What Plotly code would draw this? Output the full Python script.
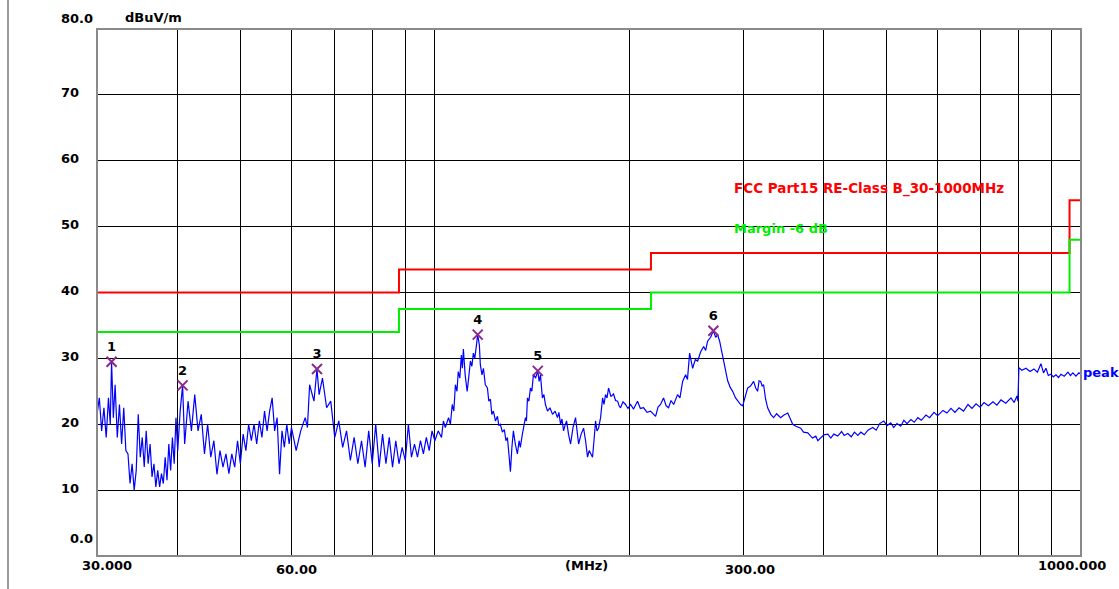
import plotly.graph_objects as go

# ---------------- data ----------------
f_a = [30.00, 30.25, 30.50, 30.75, 31.00, 31.25, 31.45, 31.60, 31.80, 32.00, 32.25, 32.50, 32.75,
       33.00, 33.25, 33.50, 33.75, 34.00, 34.25, 34.50, 34.75, 35.00, 35.25, 35.50, 35.75, 36.00,
       36.25, 36.50, 36.75, 37.00, 37.25, 37.50, 37.75, 38.00, 38.25, 38.50, 38.75, 39.00, 39.25,
       39.50, 39.75]
l_a = [21.5, 24.0, 19.0, 22.5, 18.0, 24.0, 20.0, 29.5, 21.0, 26.0, 18.0, 23.0, 17.0,
       22.5, 16.0, 15.5, 11.0, 14.0, 10.0, 13.0, 21.5, 15.0, 18.0, 13.5, 19.0, 14.0,
       17.0, 12.0, 14.0, 10.5, 13.0, 10.5, 12.5, 11.0, 15.0, 11.5, 17.0, 13.0, 18.0,
       14.0, 21.0]

f_b = [40.00, 40.35, 40.70, 41.00, 41.50, 42.00, 42.50, 43.00, 43.50, 44.00, 44.50, 45.00, 45.50,
       46.00, 46.50, 47.00, 47.50, 48.00, 48.50, 49.00, 49.50, 50.00, 50.50, 51.00, 51.50, 52.00,
       52.50, 53.00, 53.50, 54.00, 54.50, 55.00, 55.50, 56.00, 56.50, 57.00, 57.50, 58.00, 58.50,
       59.00, 59.50]
l_b = [16.0, 22.0, 25.9, 17.0, 23.5, 19.0, 24.5, 19.0, 21.5, 15.5, 20.0, 15.0, 17.5,
       12.4, 16.0, 13.5, 15.5, 12.5, 15.5, 13.5, 17.5, 14.0, 18.5, 16.0, 20.0, 17.5,
       20.0, 17.0, 20.5, 18.0, 22.0, 19.0, 22.0, 24.0, 19.0, 21.0, 12.4, 19.0, 16.5,
       20.0, 17.0]

f_c = [60.0, 61.0, 62.0, 63.0, 63.5, 64.0, 65.0, 65.7, 66.2, 67.0, 68.0, 69.0, 70.0, 71.0,
       72.0, 73.0, 74.0, 75.0, 76.0, 77.0, 78.0, 79.0, 80.0, 81.0, 82.0, 83.0, 84.0, 85.0,
       86.0, 87.0, 88.0, 89.0, 90.0, 91.0, 92.0, 93.0, 94.0, 95.0, 96.0, 97.0, 98.0, 99.0]
l_c = [19.5, 16.0, 19.0, 21.0, 19.5, 26.0, 23.5, 28.4, 24.5, 27.0, 22.5, 23.5, 18.0, 20.5,
       16.5, 19.0, 14.5, 18.0, 14.0, 17.5, 13.5, 19.0, 14.0, 20.0, 13.5, 18.5, 14.0, 18.0,
       13.5, 17.5, 14.0, 16.5, 14.5, 20.0, 15.0, 17.0, 15.0, 17.5, 15.5, 18.0, 16.0, 19.0]

f_d = [100.0, 101.2, 102.4, 103.1, 103.8, 105.0, 105.7, 106.4, 107.0, 107.6,
       108.2, 108.7, 109.3, 109.9, 110.3, 110.7, 111.4, 112.2, 112.8, 113.5,
       114.1, 114.7, 115.3, 116.0, 116.5, 117.2, 117.6, 118.3, 118.9, 119.7,
       120.6, 121.2, 121.9, 122.5, 123.2, 124.1, 125.0, 125.6, 126.3, 127.2,
       128.1, 128.8, 129.5, 130.2, 130.9, 131.6, 132.3, 133.2, 134.2, 135.0,
       135.6, 136.6, 137.3, 138.1, 138.6, 139.1, 139.8, 140.6, 141.3, 142.1,
       143.2, 144.3, 145.0, 145.7, 146.7, 147.5, 148.3, 149.4, 150.7, 152.1,
       153.5, 154.8, 155.6, 156.5, 157.3, 158.2, 159.0, 159.9, 161.0, 162.2,
       163.6, 165.1, 166.0, 166.9, 168.4, 169.9, 171.1, 172.3, 173.3, 174.2,
       175.4, 176.3, 177.3, 178.2, 179.2, 180.5, 181.8, 182.7, 183.7, 184.7,
       185.7, 187.3, 189.0, 190.4, 191.8, 192.8, 193.8, 195.5, 197.3, 199.0]
l_d = [17.5, 19.0, 18.0, 20.5, 19.5, 21.0, 20.0, 23.0, 22.0, 26.0,
       25.0, 28.0, 27.0, 30.5, 28.5, 31.4, 27.5, 25.0, 27.0, 29.6,
       28.8, 30.8, 30.0, 32.5, 33.6, 32.0, 29.0, 27.5, 28.5, 26.0,
       25.5, 23.5, 23.8, 21.5, 22.0, 20.5, 21.2, 19.8, 20.0, 18.8,
       19.2, 17.5, 18.0, 15.5, 12.8, 16.5, 19.0, 17.0, 15.5, 17.5,
       16.5, 18.5, 19.5, 21.0, 20.5, 24.0, 23.5, 25.5, 25.0, 27.6,
       27.0, 28.1, 26.5, 27.5, 24.0, 24.5, 23.0, 22.0, 22.5, 21.5,
       22.0, 21.0, 21.8, 20.0, 20.8, 19.0, 19.8, 20.5, 18.5, 17.0,
       19.5, 21.0, 19.0, 17.0, 18.5, 19.4, 17.5, 15.0, 16.0, 15.5,
       15.0, 17.5, 20.5, 19.0, 19.4, 21.0, 24.0, 23.0, 24.5, 24.0,
       25.5, 24.2, 24.6, 23.6, 23.5, 22.8, 22.5, 23.4, 23.0, 22.4]

f_e = [200.9, 203.0, 205.9, 208.0, 210.4, 213.0, 215.7, 219.6, 221.5, 223.5, 225.9, 228.0,
       230.0, 232.0, 234.2, 237.5, 239.5, 241.8, 244.4, 246.0, 247.9, 250.6, 253.0, 255.1,
       257.9, 260.6, 262.5, 264.3, 267.2, 269.8, 272.0, 273.9, 275.9, 279.9, 283.9, 286.5,
       289.0, 292.0, 294.2, 297.3, 299.5, 302.0, 304.8, 308.0, 311.4, 313.7, 315.9, 317.5,
       319.3, 321.0, 322.7, 325.0, 327.4, 331.0, 334.4, 338.0, 342.9, 347.0, 351.7, 355.0,
       357.9, 362.0]
l_e = [23.0, 22.3, 23.5, 22.4, 22.5, 21.8, 22.0, 21.2, 22.6, 23.0, 24.0, 22.8,
       22.5, 23.6, 23.0, 24.5, 24.0, 26.5, 27.5, 26.8, 30.8, 28.5, 29.8, 29.6,
       31.0, 31.8, 31.2, 32.6, 33.2, 34.2, 33.2, 33.6, 32.6, 29.6, 26.6, 25.6,
       25.0, 24.0, 23.5, 23.0, 22.8, 24.2, 25.5, 25.8, 26.5, 25.5, 25.0, 26.6,
       26.5, 25.8, 26.0, 23.8, 22.5, 21.5, 21.0, 21.6, 21.0, 21.4, 21.7, 20.8,
       20.0, 19.7]

f_f = [368.3, 372.0, 377.7, 384.0, 388.6, 391.5, 395.7, 400.0, 405.7, 410.0,
       414.4, 420.3, 426.0, 430.0, 435.6, 441.0, 446.0, 451.6, 456.3, 462.0,
       468.0, 476.2, 482.0, 488.0, 495.2, 501.0, 507.7, 513.0, 519.0, 526.1,
       532.0, 538.0, 545.3, 552.0, 559.1, 566.0, 575.5, 583.0, 592.2, 600.0,
       611.4, 620.0, 629.1, 638.0, 647.5, 658.0, 668.5, 678.0, 688.0, 698.0,
       707.8, 719.0, 730.7, 741.0, 751.9, 765.0, 779.2, 788.0, 795.9, 798.7,
       801.5, 810.0, 821.9, 834.0, 845.5, 856.0, 866.9, 875.0, 882.6, 890.0,
       898.5, 906.0, 914.7, 923.0, 931.1, 942.0, 954.5, 963.0, 971.6, 982.0,
       992.6, 1000.0]
l_f = [19.4, 18.8, 18.7, 17.9, 18.2, 17.5, 18.0, 18.4, 18.5, 17.9,
       18.5, 18.2, 18.9, 18.3, 18.6, 18.1, 18.8, 18.3, 18.8, 18.4,
       19.1, 19.5, 19.1, 20.1, 20.5, 19.8, 20.2, 19.5, 20.1, 19.7,
       20.6, 20.1, 20.7, 20.3, 21.0, 20.6, 21.4, 21.0, 21.8, 21.3,
       22.1, 21.7, 22.4, 21.8, 22.5, 22.0, 23.0, 22.4, 23.1, 22.6,
       23.3, 22.8, 23.4, 22.9, 23.7, 23.2, 24.0, 23.3, 24.3, 23.5,
       28.6, 28.2, 28.5, 28.0, 28.4, 27.9, 29.2, 27.8, 28.5, 27.4,
       27.6, 27.2, 27.5, 27.1, 27.6, 27.3, 27.9, 27.4, 27.8, 27.3,
       27.8, 27.6]

freq_mhz = f_a + f_b + f_c + f_d + f_e + f_f
level_dbuv = l_a + l_b + l_c + l_d + l_e + l_f

marker_freq = [31.6, 40.7, 65.7, 116.5, 144.3, 269.8]
marker_level = [29.5, 25.9, 28.4, 33.6, 28.1, 34.2]
marker_label = ["1", "2", "3", "4", "5", "6"]

limit_freq = [30, 88, 88, 216, 216, 960, 960, 1000]
limit_level = [40, 40, 43.5, 43.5, 46, 46, 54, 54]
margin_level = [34, 34, 37.5, 37.5, 40, 40, 48, 48]

x_grid = [40, 50, 60, 70, 80, 90, 100, 200, 300, 400, 500, 600, 700, 800, 900]
y_grid = [10, 20, 30, 40, 50, 60, 70]
y_tick_vals = [80, 70, 60, 50, 40, 30, 20, 10, 0]
y_tick_text = ["80.0", "70", "60", "50", "40", "30", "20", "10", "0.0"]
x_label_text = ["30.000", "60.00", "(MHz)", "300.00", "1000.000"]

# ---------------- figure ----------------
FONT = "DejaVu Sans"
fig = go.Figure()

fig.add_trace(go.Scatter(x=limit_freq, y=limit_level, mode="lines",
                         line=dict(color="#ff0000", width=2), hoverinfo="skip"))
fig.add_trace(go.Scatter(x=limit_freq, y=margin_level, mode="lines",
                         line=dict(color="#00ee00", width=2), hoverinfo="skip"))
fig.add_trace(go.Scatter(x=freq_mhz, y=level_dbuv, mode="lines",
                         line=dict(color="#0000ff", width=1.2)))
fig.add_trace(go.Scatter(x=marker_freq, y=marker_level, mode="markers+text",
                         text=marker_label, textposition="top center",
                         textfont=dict(family=FONT, size=13, color="#000000", weight="bold"),
                         marker=dict(symbol="x-thin", size=10,
                                     line=dict(color="#8b2a8b", width=2), color="#8b2a8b")))

annotations = []
# y tick labels
for v, t in zip(y_tick_vals, y_tick_text):
    if t == "0.0":
        xs, ys = -29, 18
    elif t == "80.0":
        xs, ys = -38, 11
    else:
        xs, ys = -38, 2
    annotations.append(dict(x=0, xref="paper", y=v, yref="y", text=t, showarrow=False,
                            xanchor="left", yanchor="middle", xshift=xs, yshift=ys,
                            font=dict(family=FONT, size=13, color="#000000", weight="bold")))
# x labels
x_label_pos = [(10, -9), (199, -13), (489, -9), (653, -13), (975, -9)]
for t, (xs, ys) in zip(x_label_text, x_label_pos):
    annotations.append(dict(x=0, xref="paper", y=0, yref="paper", text=t, showarrow=False,
                            xanchor="center", yanchor="middle", xshift=xs, yshift=ys,
                            font=dict(family=FONT, size=13, color="#000000", weight="bold")))
# unit label
annotations.append(dict(x=0, xref="paper", y=1, yref="paper", text="dBuV/m", showarrow=False,
                        xanchor="left", yanchor="middle", xshift=26, yshift=12,
                        font=dict(family=FONT, size=13, color="#000000", weight="bold")))
# legend texts
annotations.append(dict(x=0, xref="paper", y=1, yref="paper",
                        text="FCC Part15 RE-Class B_30-1000MHz", showarrow=False,
                        xanchor="left", yanchor="middle", xshift=635, yshift=-159,
                        font=dict(family=FONT, size=13.5, color="#ff0000", weight="bold")))
annotations.append(dict(x=0, xref="paper", y=1, yref="paper",
                        text="Margin -6 dB", showarrow=False,
                        xanchor="left", yanchor="middle", xshift=635, yshift=-199,
                        font=dict(family=FONT, size=13, color="#00ee00", weight="bold")))
annotations.append(dict(x=1, xref="paper", y=1, yref="paper",
                        text="peak", showarrow=False,
                        xanchor="left", yanchor="middle", xshift=0, yshift=-343,
                        font=dict(family=FONT, size=13, color="#0000ff", weight="bold")))

ML, MR, MT, MB = 97, 38, 29, 33
W, H = 1119, 589
plot_w = W - ML - MR
shapes = [
    dict(type="rect", xref="paper", yref="paper", x0=0, x1=1, y0=0, y1=1,
         line=dict(color="#8a8a8a", width=2), layer="above"),
    dict(type="line", xref="paper", yref="paper", x0=(8 - ML) / plot_w, x1=(8 - ML) / plot_w,
         y0=-0.1, y1=1.1, line=dict(color="#9a9a9a", width=2)),
]

fig.update_layout(
    width=W, height=H,
    margin=dict(l=ML, r=MR, t=MT, b=MB),
    paper_bgcolor="#ffffff", plot_bgcolor="#ffffff",
    showlegend=False,
    hovermode=False,
    annotations=annotations,
    shapes=shapes,
    xaxis=dict(type="log", range=[1.4771213, 3.0], tickvals=x_grid, showticklabels=False,
               ticks="", showgrid=True, gridcolor="#000000", gridwidth=1,
               zeroline=False, showline=False, fixedrange=True),
    yaxis=dict(range=[0, 80], tickvals=y_grid, showticklabels=False, ticks="",
               showgrid=True, gridcolor="#000000", gridwidth=1,
               zeroline=False, showline=False, fixedrange=True),
)

# the page's default 8 px body margin would shift the figure; remove it
fig.write_html("out.html", default_width="1119px", default_height="589px",
               config={"displayModeBar": False, "staticPlot": True},
               post_script="document.body.style.margin='0px';"
                           "document.body.style.overflow='hidden';")
